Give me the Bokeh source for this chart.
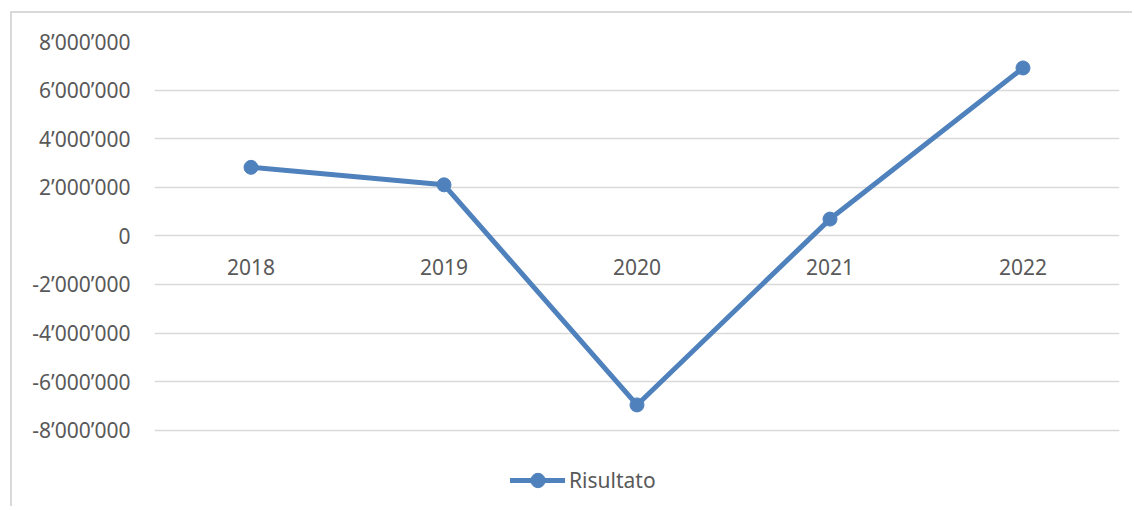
from bokeh.plotting import figure
from bokeh.models import FixedTicker, Legend, LegendItem, ColumnDataSource, Range1d, FactorRange
from bokeh.core.properties import value
from bokeh.embed import file_html
from bokeh.resources import INLINE

years = ["2018", "2019", "2020", "2021", "2022"]
risultato = [2820000, 2100000, -6960000, 690000, 6910000]
y_ticks = [-8000000, -6000000, -4000000, -2000000, 0, 2000000, 4000000, 6000000, 8000000]
y_tick_labels = ["-8’000’000", "-6’000’000", "-4’000’000", "-2’000’000", "0",
                 "2’000’000", "4’000’000", "6’000’000", "8’000’000"]
series_name = "Risultato"

FONT = "Noto Sans"
TXT = "#595959"
BLUE = "#4F81BD"
GRID = "#D9D9D9"

p = figure(width=1122, height=495, x_range=FactorRange(*years, range_padding=0),
           y_range=Range1d(-11100000, 8000000),
           output_backend="svg", toolbar_location=None,
           min_border_left=142, min_border_right=15, min_border_top=28, min_border_bottom=3)
p.margin = (11, 0, 0, 10)
p.styles = {"border-left": "2px solid #D9D9D9", "border-top": "2px solid #D9D9D9"}
p.outline_line_color = None
p.background_fill_color = "white"
p.border_fill_color = "white"

src = ColumnDataSource(dict(x=years, y=risultato))

# Y axis
p.yaxis.ticker = FixedTicker(ticks=y_ticks)
p.yaxis.major_label_overrides = {t: l for t, l in zip(y_ticks, y_tick_labels)}
p.yaxis.axis_line_color = None
p.yaxis.major_tick_line_color = None
p.yaxis.minor_tick_line_color = None
p.yaxis.major_tick_out = 0
p.yaxis.major_tick_in = 0
p.yaxis.major_label_standoff = 24
p.yaxis.major_label_text_font = FONT
p.yaxis.major_label_text_font_size = "21px"
p.yaxis.major_label_text_color = TXT

p.ygrid.grid_line_color = GRID
p.ygrid.grid_line_width = 1.5
p.xgrid.grid_line_color = None
p.xaxis.visible = False

# category labels just under the zero line
lab_src = ColumnDataSource(dict(x=years, y=[0] * len(years), t=years))
p.text(x="x", y="y", text="t", source=lab_src, text_align="center", text_baseline="middle",
       y_offset=31, text_font=value(FONT), text_font_size="21px", text_color=TXT)

ln = p.line(x="x", y="y", source=src, line_color=BLUE, line_width=5, line_join="round", line_cap="round")
ci = p.scatter(x="x", y="y", source=src, size=14, fill_color=BLUE, line_color=BLUE)

legend = Legend(items=[LegendItem(label=series_name, renderers=[ln, ci])],
                location=(356, 7), orientation="horizontal",
                label_text_font=FONT, label_text_font_size="21px", label_text_color=TXT,
                glyph_width=55, glyph_height=36, padding=0, margin=0, spacing=0,
                label_standoff=4, border_line_color=None, background_fill_alpha=0)
p.add_layout(legend, "center")

open("out.html", "w").write(file_html(p, INLINE))
